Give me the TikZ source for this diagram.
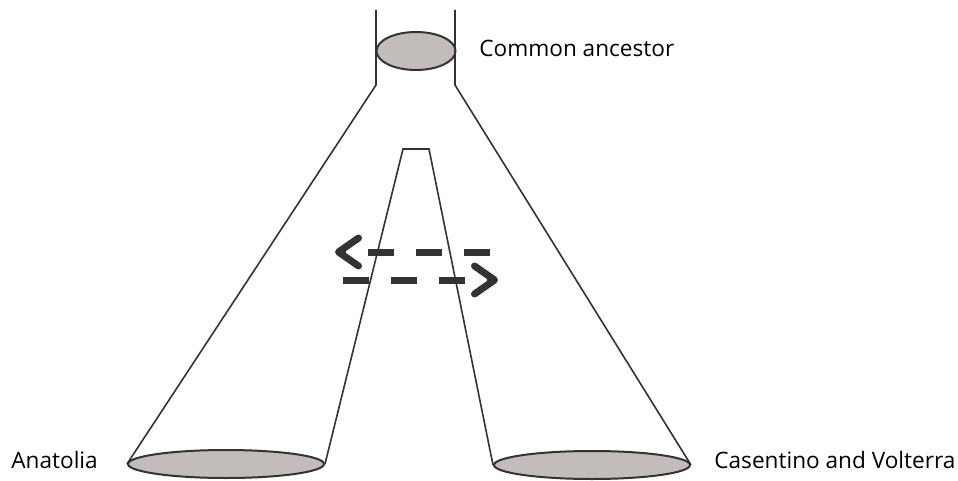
\documentclass[tikz,border=0pt]{standalone}
\usepackage{fontspec}
\setmainfont{Open Sans}
\usetikzlibrary{arrows.meta,shapes.geometric}
\definecolor{popfill}{HTML}{C2BDBA}
\definecolor{inkgray}{HTML}{333333}
\begin{document}
\begin{tikzpicture}[x=0.5pt,y=-0.5pt,
    pop/.style={ellipse,draw=inkgray,fill=popfill,line width=1pt,inner sep=0pt},
    edge/.style={draw=inkgray,line width=0.8pt},
    flow/.style={draw=inkgray,line width=3.5pt,dash pattern=on 13pt off 11pt,
      -{Straight Barb[length=10pt,width=14pt,round]}},
    lbl/.style={anchor=base west,inner sep=0pt,font=\fontsize{11.3}{13}\selectfont,text=black}
  ]
    \useasboundingbox (0,0) rectangle (958,481);
    % populations
    \node[pop,minimum width=39.5pt,minimum height=19pt] (anc) at (416,51) {};
    \node[pop,minimum width=98pt,minimum height=14pt] (ana) at (226,464) {};
    \node[pop,minimum width=98pt,minimum height=14pt] (cas) at (592,465) {};
    \coordinate (tl) at (376,10); \coordinate (kl) at (376,85);
    \coordinate (tr) at (455,10); \coordinate (kr) at (455,85);
    \coordinate (il) at (403,149); \coordinate (ir) at (429,149);
    \draw[edge] (tl)--(kl)--(ana.west);
    \draw[edge] (tr)--(kr)--(cas.east);
    \draw[edge] (ana.east)--(il)--(ir)--(cas.west);
    % gene flow
    \coordinate (fa) at (490,252); \coordinate (fb) at (335,252);
    \coordinate (fc) at (343,280); \coordinate (fd) at (498,280);
    \draw[flow] (fa)--(fb);
    \draw[flow] (fc)--(fd);
    % labels
    \node[lbl] (lanc) at (479,57) {Common ancestor};
    \node[lbl] (lana) at (11,468) {Anatolia};
    \node[lbl] (lcas) at (714,468) {Casentino and Volterra};
  \end{tikzpicture}
\end{document}
